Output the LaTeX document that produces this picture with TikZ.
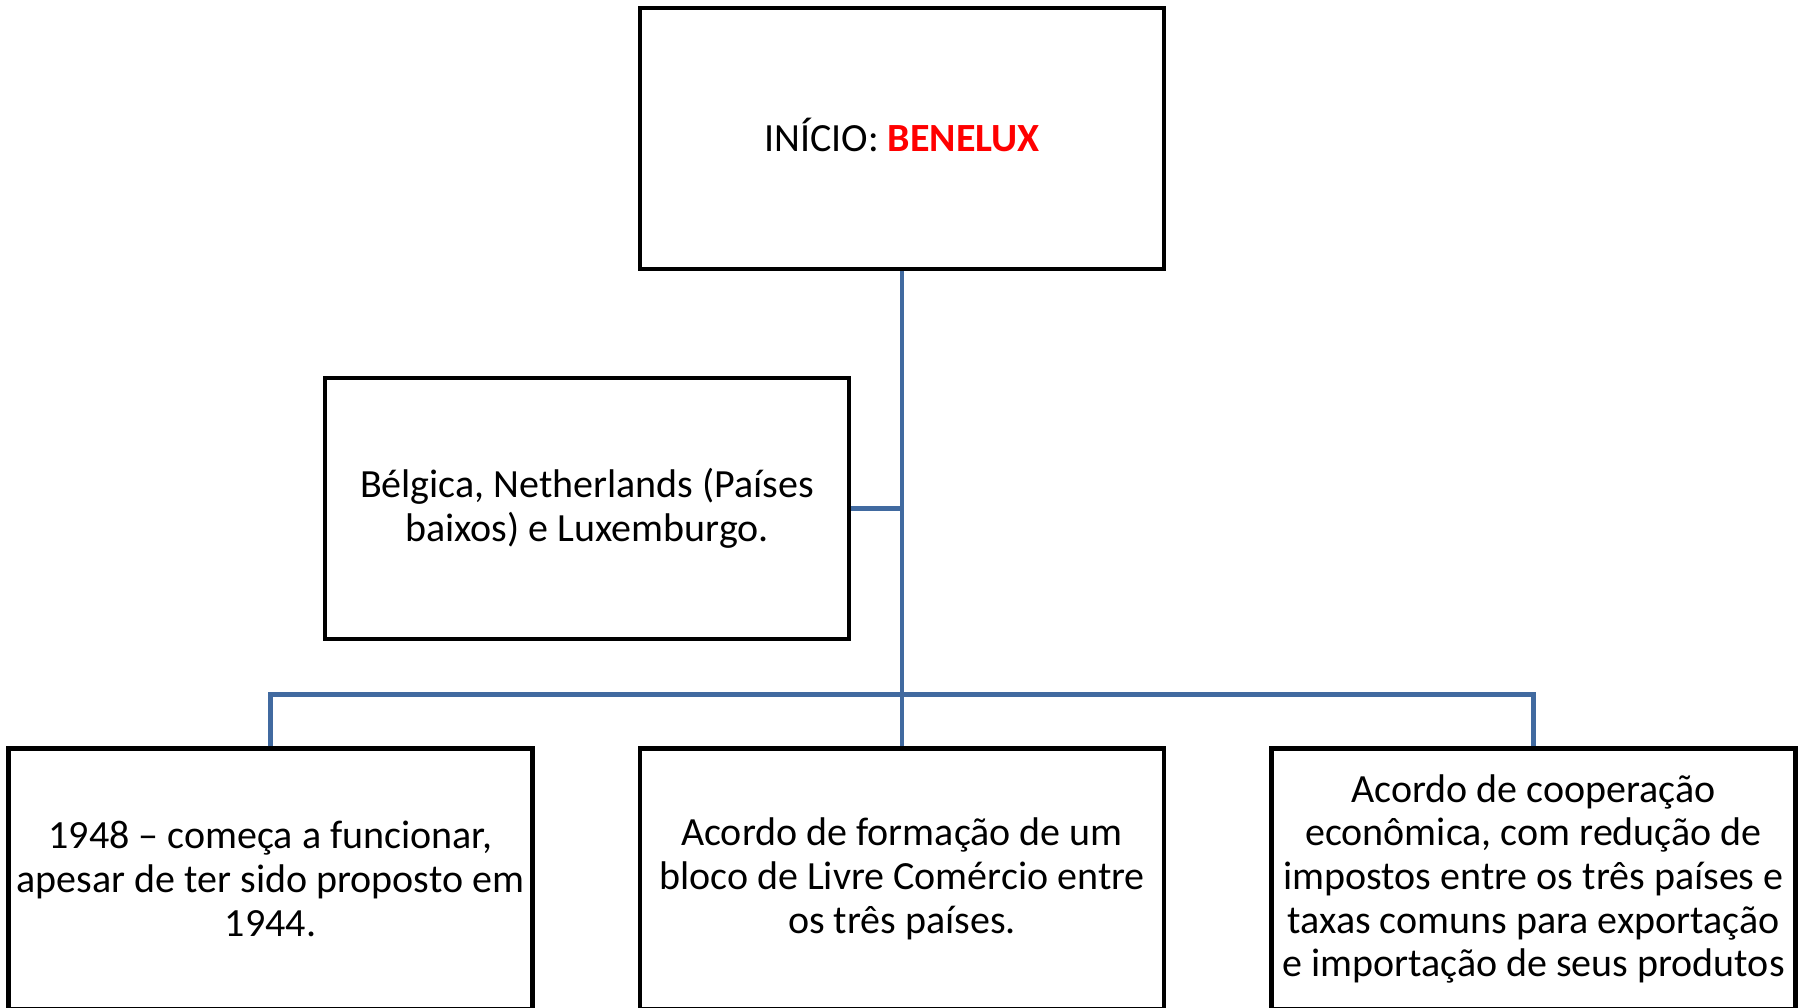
\documentclass[tikz,border=0pt]{standalone}
\usepackage{fontspec}
\setmainfont{Carlito}
\definecolor{conncol}{RGB}{65,106,160}
\definecolor{redtxt}{RGB}{255,0,0}
\begin{document}
\begin{tikzpicture}[x=1pt,y=-1pt,
  box/.style={draw=black,line width=4.5pt,rectangle,minimum width=524pt,minimum height=261pt,
    inner sep=0pt,align=center,font=\fontsize{40}{43.7}\selectfont},
  conn/.style={draw=conncol,line width=4.2pt}]
\useasboundingbox (0,0) rectangle (1803,1007);
\node[box] (top) at (902,138.5) {};
\node[font=\fontsize{40}{43.7}\selectfont,inner sep=0pt,anchor=base] (toptext) at (902,151) {INÍCIO: \textcolor{redtxt}{\textbf{BENELUX}}};
\node[box] (mid) at (587,508.5) {Bélgica, Netherlands (Países\\baixos) e Luxemburgo.};
\node[box] (bl) at (270.5,879) {1948 – começa a funcionar,\\apesar de ter sido proposto em\\1944.};
\node[box] (bm) at (902,879) {Acordo de formação de um\\bloco de Livre Comércio entre\\os três países.};
\node[box] (br) at (1533.5,879) {Acordo de cooperação\\econômica, com redução de\\impostos entre os três países e\\taxas comuns para exportação\\e importação de seus produtos};
\coordinate (bus) at (902,694.5);
\draw[conn] (top.south) -- (bm.north);
\draw[conn] (mid.east) -- (mid.east -| top.south);
\draw[conn] (bl.north) |- (bus) -| (br.north);
\end{tikzpicture}
\end{document}
